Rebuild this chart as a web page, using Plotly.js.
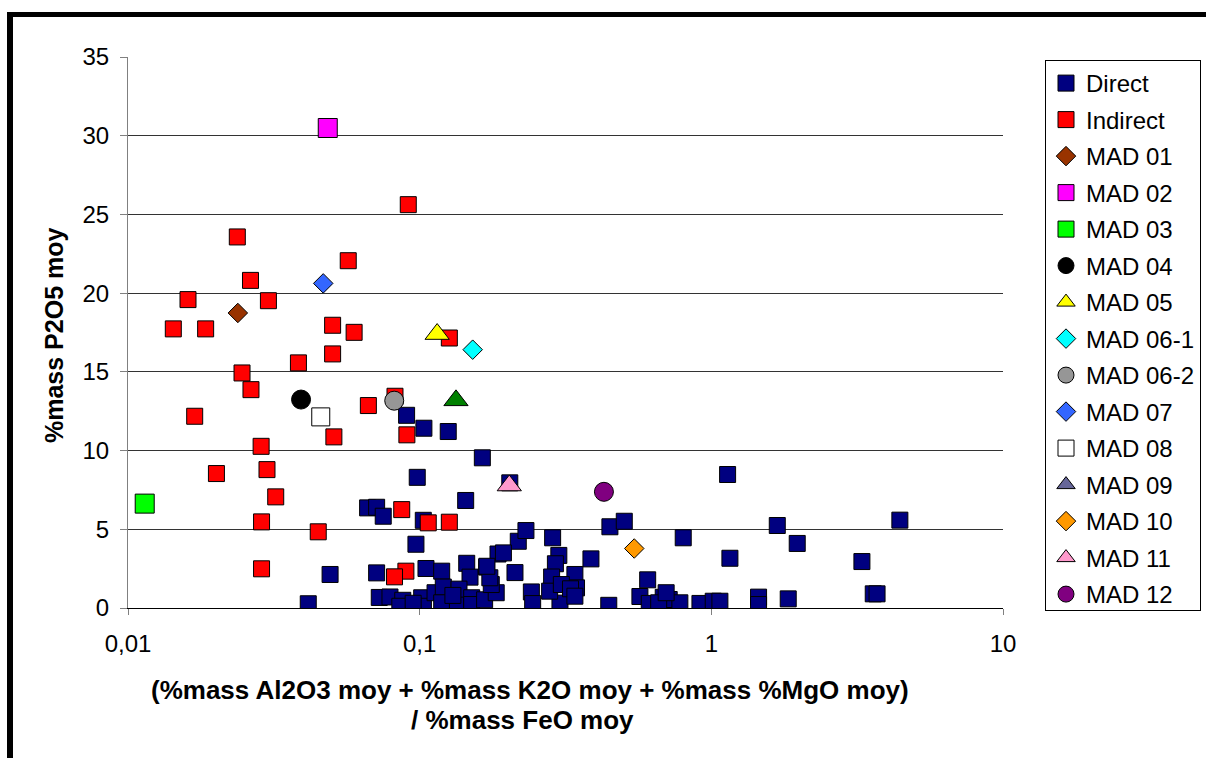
<!DOCTYPE html>
<html>
<head>
<meta charset="utf-8">
<script src="https://cdn.plot.ly/plotly-3.0.1.min.js"></script>
<style>
html,body{margin:0;padding:0;background:#fff;overflow:hidden;}
#chart{position:absolute;left:0;top:0;width:1206px;height:758px;}
#frame{position:absolute;left:7px;top:12px;width:1400px;height:1000px;border-top:5px solid #000;border-left:6px solid #000;pointer-events:none;}
</style>
</head>
<body>
<div id="chart"></div>
<div id="frame"></div>
<script>
// ---- data ----
const directX = [0.0902,0.1034,0.1253,0.164,0.0981,0.1438,0.0663,0.0712,0.075,0.1029,
  0.0971,0.0493,0.0415,0.0712,0.1051,0.119,0.145,0.1697,0.1856,0.1488,
  0.0727,0.0791,0.0875,0.0855,0.1016,0.103,0.1129,0.1205,0.119,0.1347,
  0.1364,0.1508,0.1508,0.167,0.183,0.176,0.2122,0.2178,0.2314,0.2857,
  0.30,0.3866,0.292,0.2834,0.3406,0.335,0.2415,0.244,0.3027,0.279,
  0.345,0.306,0.445,0.605,0.569,0.6126,0.684,0.7171,0.66,0.78,
  0.70,0.914,1.015,1.07,0.801,1.137,1.158,1.452,1.452,1.835,
  1.683,1.97,3.283,3.59,3.70,4.43,0.449,0.5029,0.2037,0.1937,
  0.174,0.13,0.095,0.329,0.3406,0.17];
const directY = [12.24,11.42,11.21,9.54,8.30,6.83,6.36,6.40,5.83,5.57,
  4.05,2.13,0.27,2.23,2.51,2.34,2.84,2.60,3.43,1.96,
  0.67,0.70,0.49,0.11,0.65,0.11,0.97,1.33,0.33,0.29,
  1.20,0.65,0.22,0.52,0.97,1.49,2.25,4.24,4.92,4.46,
  3.34,3.12,2.81,1.97,2.13,1.17,1.02,0.28,0.31,1.07,
  1.28,1.49,0.17,1.79,0.73,0.29,0.68,0.54,0.33,0.33,
  0.97,0.29,0.43,0.43,4.46,8.48,3.16,0.69,0.22,0.58,
  5.24,4.10,2.95,0.90,0.90,5.58,5.16,5.51,7.95,3.50,
  1.92,0.80,0.30,1.22,0.75,2.65];

const indirectX = [0.0237,0.0263,0.0303,0.01606,0.0143,0.01846,0.0914,0.0569,0.0503,0.0596,
  0.1264,0.0503,0.0384,0.0246,0.0264,0.0667,0.0823,0.0904,0.0508,0.01693,
  0.0286,0.0201,0.02996,0.0321,0.0868,0.1070,0.1264,0.0287,0.0449,0.0287,
  0.0897,0.082];
const indirectY = [23.57,20.81,19.52,19.59,17.73,17.73,25.62,22.06,17.96,17.51,
  17.15,16.14,15.57,14.93,13.87,12.86,13.45,11.0,10.87,12.18,
  10.27,8.54,8.79,7.06,6.25,5.41,5.45,5.47,4.84,2.49,
  2.34,1.98];

const madNames = ['MAD 01','MAD 02','MAD 03','MAD 04','MAD 05','MAD 06-1','MAD 06-2',
  'MAD 07','MAD 08','MAD 09','MAD 10','MAD 11','MAD 12'];
const madX = [0.0238,0.0484,0.01141,0.0392,0.1148,0.152,0.0818,0.0467,0.0458,0.1332,0.5441,0.2029,0.4283];
const madY = [18.74,30.49,6.63,13.24,17.40,16.41,13.17,20.62,12.14,13.19,3.78,7.78,7.38];

const xTickVals = [0.01,0.1,1,10];
const xTickText = ['0,01','0,1','1','10'];
const yTickVals = [0,5,10,15,20,25,30,35];

const xTitleLines = ['(%mass Al2O3 moy + %mass K2O moy + %mass %MgO moy)','/ %mass FeO moy'];
const yTitle = '%mass P2O5 moy';

// ---- styles ----
const madSymbols = ['diamond','square','square','circle','triangle-up','diamond','circle',
  'diamond','square','triangle-up','diamond','triangle-up','circle'];
const madColors = ['#993300','#FF00FF','#00FF00','#000000','#FFFF00','#00FFFF','#969696',
  '#3366FF','#FFFFFF','#008000','#FF9900','#FF99CC','#800080'];
const madLegendColors = ['#993300','#FF00FF','#00FF00','#000000','#FFFF00','#00FFFF','#969696',
  '#3366FF','#FFFFFF','#666699','#FF9900','#FF99CC','#800080'];
const symbolSize = {square:19, circle:19, diamond:15, 'triangle-up':21};

const FONT = 'Liberation Sans, Arial, sans-serif';
const line = {color:'#000000', width:1};

const traces = [];
traces.push({type:'scatter', mode:'markers', name:'Direct', x:directX, y:directY,
  marker:{symbol:'square', size:16, color:'#000080', line:line}, legendgroup:'g0'});
traces.push({type:'scatter', mode:'markers', name:'Indirect', x:indirectX, y:indirectY,
  marker:{symbol:'square', size:16, color:'#FF0000', line:line}, legendgroup:'g1'});
madNames.forEach((n,i)=>{
  const sym = madSymbols[i];
  const sz = (i===8) ? 18 : symbolSize[sym];
  if (madLegendColors[i] !== madColors[i]) {
    traces.push({type:'scatter', mode:'markers', name:n, x:[null], y:[null],
      marker:{symbol:sym, size:sz, color:madLegendColors[i], line:line}, legendgroup:'m'+i, hoverinfo:'skip'});
    traces.push({type:'scatter', mode:'markers', name:n, x:[madX[i]], y:[madY[i]], showlegend:false,
      marker:{symbol:sym, size:sz, color:madColors[i], line:line}, legendgroup:'m'+i});
  } else {
    traces.push({type:'scatter', mode:'markers', name:n, x:[madX[i]], y:[madY[i]],
      marker:{symbol:sym, size:sz, color:madColors[i], line:line}, legendgroup:'m'+i});
  }
});

const layout = {
  width:1206, height:758,
  margin:{l:128, r:203, t:57, b:150, pad:0, autoexpand:false},
  paper_bgcolor:'rgba(0,0,0,0)', plot_bgcolor:'#FFFFFF',
  font:{family:FONT, size:24, color:'#000'},
  showlegend:true,
  xaxis:{type:'log', range:[-2,1], tickvals:xTickVals, ticktext:xTickText,
    showgrid:false, zeroline:false, showline:true, linecolor:'#000', linewidth:1,
    ticks:'outside', ticklen:6, tickcolor:'#808080', ticklabelstandoff:8,
    tickfont:{family:FONT, size:24, color:'#000'}},
  yaxis:{range:[0,35], tickvals:yTickVals, showgrid:true, gridcolor:'#333333', gridwidth:1,
    zeroline:false, showline:true, linecolor:'#808080', linewidth:1,
    ticks:'outside', ticklen:7, tickcolor:'#808080', ticklabelstandoff:6,
    tickfont:{family:FONT, size:24, color:'#000'}},
  legend:{x:(1045-128)/875, xanchor:'left', y:(608-60)/551, yanchor:'top', bgcolor:'#FFFFFF',
    bordercolor:'#000', borderwidth:1, traceorder:'grouped', tracegroupgap:2.3,
    font:{family:FONT, size:24, color:'#000'}, itemclick:false},
  annotations:[
    {xref:'paper', yref:'paper', x:(530-128)/875, y:-(690-608)/551, xanchor:'center', yanchor:'middle',
      text:'<b>'+xTitleLines[0]+'</b>', showarrow:false, font:{family:FONT, size:26, color:'#000'}},
    {xref:'paper', yref:'paper', x:(522-128)/875, y:-(720-608)/551, xanchor:'center', yanchor:'middle',
      text:'<b>'+xTitleLines[1]+'</b>', showarrow:false, font:{family:FONT, size:26, color:'#000'}},
    {xref:'paper', yref:'paper', x:-(128-54)/875, y:(608-336)/551, xanchor:'center', yanchor:'middle',
      textangle:-90, text:'<b>'+yTitle+'</b>', showarrow:false, font:{family:FONT, size:25, color:'#000'}}
  ]
};

Plotly.newPlot('chart', traces, layout, {displayModeBar:false, staticPlot:true});
</script>
</body>
</html>
